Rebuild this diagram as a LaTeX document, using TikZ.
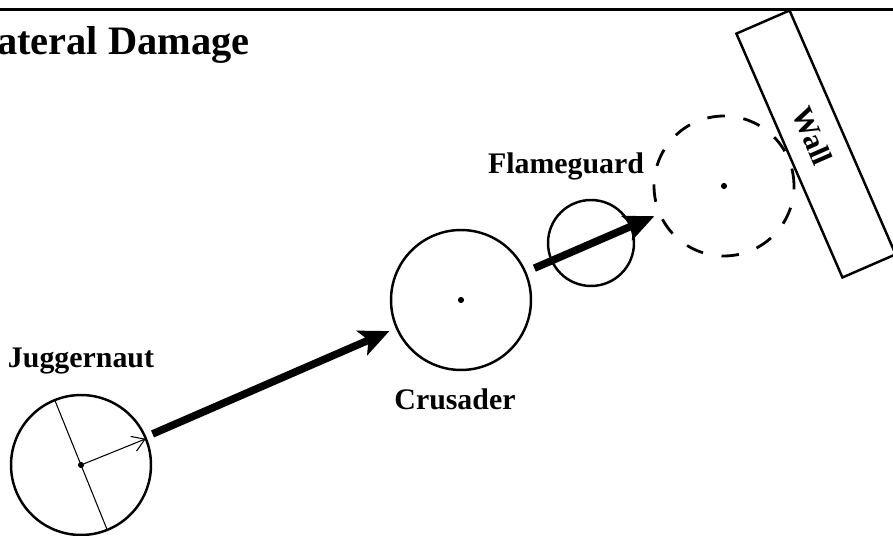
\documentclass[tikz,border=0pt]{standalone}
\usepackage{fontspec}
\setmainfont{Liberation Serif}
\usetikzlibrary{positioning, arrows.meta}

\begin{document}
\begin{tikzpicture}[
    x=0.02cm, y=-0.02cm,
    unit/.style={
        draw,
        line width=1.4pt,
        circle,
        inner sep=0pt,
        outer sep=0pt,
        minimum size=2.8cm,
    },
    ghost/.style={
        unit,
        line width=1.6pt,
        dash pattern=on 10pt off 10.7pt,
    },
    tag/.style={
        font=\fontsize{17}{20}\selectfont\bfseries,
        inner sep=0pt,
    },
    wallbox/.style={
        draw,
        line width=1.4pt,
        minimum width=5.32cm,
        minimum height=1.16cm,
        inner sep=0pt,
        rotate=-66.5,
        font=\fontsize{17}{20}\selectfont\bfseries,
    },
    push/.style={
        -{Stealth[length=17pt, width=15pt, inset=4pt]},
        line width=4.3pt,
        shorten <=0.16cm,
        shorten >=0.16cm,
    },
    reach/.style={
        -{Straight Barb[length=7pt, width=9pt]},
        line width=0.6pt,
    },
    dot/.style={
        fill,
        circle,
        inner sep=0pt,
        minimum size=3.5pt,
    },
]

    \useasboundingbox (0,0) rectangle (893,536);
    \clip (0,0) rectangle (893,536);

    \coordinate (rule_l) at (0,9.7);
    \coordinate (rule_r) at (893,9.7);
    \draw[line width=1.4pt] (rule_l) -- (rule_r);

    \node[anchor=base east, inner sep=0pt, font=\fontsize{23}{28}\selectfont\bfseries] (title) at (250,55) {Collateral Damage};

    \node[unit] (jug) at (81,465) {};
    \node[unit] (cru) at (461,300) {};
    \node[unit, minimum size=1.72cm] (fla) at (591,243) {};
    \node[ghost] (proj) at (724,186) {};
    \node[wallbox] (wall) at (816,144) {Wall\hspace*{0.35cm}};

    \node[dot] (jug_c) at (jug) {};
    \node[dot] (cru_c) at (cru) {};
    \node[dot] (proj_c) at (proj) {};

    \node[tag, above=0.42cm of jug] (jug_name) {Juggernaut};
    \node[tag, below=0.36cm of cru, xshift=-0.12cm] (cru_name) {Crusader};
    \node[tag, above=0.4cm of fla, xshift=-0.5cm] (fla_name) {Flameguard};

    % Draw arrows
    \draw[line width=0.6pt] (jug.112.6) -- (jug.292.6);
    \draw[reach] (jug.center) -- (jug.22.6);
    \draw[push] (jug) -- (cru);
    \draw[push, shorten <=0.2cm, shorten >=0.12cm] (cru) -- (proj);

\end{tikzpicture}
\end{document}
